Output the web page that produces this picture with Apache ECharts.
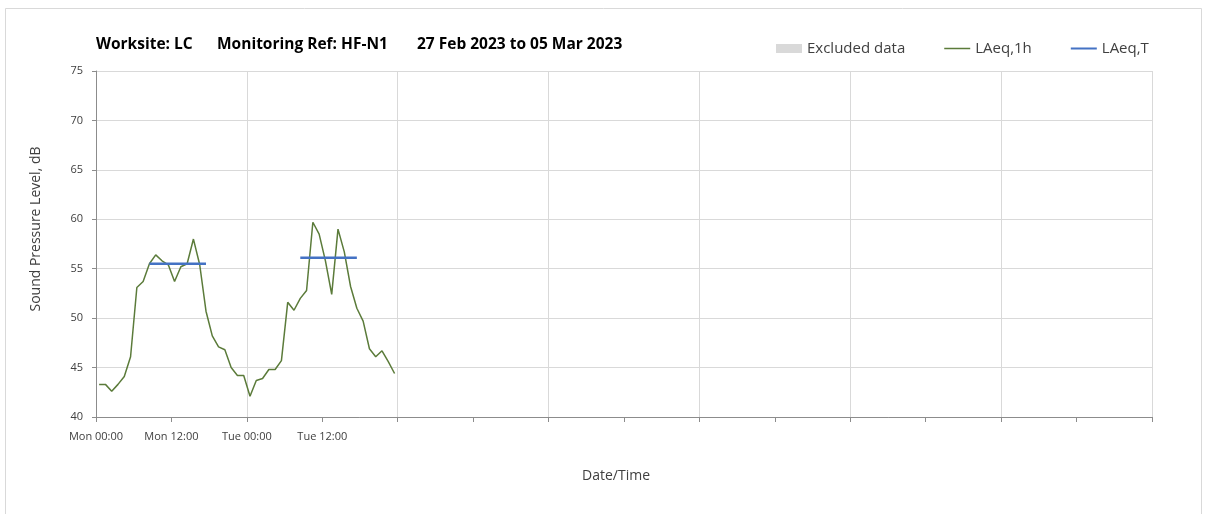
<!DOCTYPE html>
<html>
<head>
<meta charset="utf-8">
<script src="https://cdn.jsdelivr.net/npm/echarts@6/dist/echarts.min.js"></script>
<style>
html,body{margin:0;padding:0;background:#fff;}
#chart{width:1208px;height:514px;}
</style>
</head>
<body>
<div id="chart"></div>
<script>
// ---- data ----
var hourTimes = [0.5,1.5,2.5,3.5,4.5,5.5,6.5,7.5,8.5,9.5,10.5,11.5,12.5,13.5,14.5,15.5,16.5,17.5,18.5,19.5,20.5,21.5,22.5,23.5,
                 24.5,25.5,26.5,27.5,28.5,29.5,30.5,31.5,32.5,33.5,34.5,35.5,36.5,37.5,38.5,39.5,40.5,41.5,42.5,43.5,44.5,45.5,46.5,47.5];
var laeq1h = [43.3,43.3,42.6,43.3,44.1,46.1,53.1,53.7,55.5,56.4,55.8,55.4,53.7,55.2,55.5,58.0,55.4,50.7,48.2,47.1,46.8,45.0,44.2,44.2,
              42.1,43.7,43.9,44.8,44.8,45.7,51.6,50.8,52.0,52.8,59.7,58.5,55.8,52.4,59.0,56.7,53.2,51.0,49.7,46.9,46.1,46.7,45.6,44.4];
var periodStart = [8.5, 32.5];
var periodEnd = [17.5, 41.5];
var periodLevel = [55.5, 56.1];
var xLabelHours = [0, 12, 24, 36];
var xLabelTexts = ['Mon 00:00', 'Mon 12:00', 'Tue 00:00', 'Tue 12:00'];
var yTicks = [40, 45, 50, 55, 60, 65, 70, 75];

var FONT = '"Open Sans", Lato, sans-serif';
var chart = echarts.init(document.getElementById('chart'), null, {renderer: 'canvas'});

// thin horizontal line icons (tiny corner dots fix the 26x9 bounding box)
var thinLineIcon = 'path://M0,0H0.01V0.01H0ZM0,3.75H26V5.25H0ZM25.99,8.99H26V9H25.99Z';
var thickLineIcon = 'path://M0,0H0.01V0.01H0ZM0,3.4H26V5.6H0ZM25.99,8.99H26V9H25.99Z';

var lineData = hourTimes.map(function (t, i) { return [t, laeq1h[i]]; });
var periodSeries = periodStart.map(function (s, i) {
  return {
    name: 'LAeq,T', type: 'line', xAxisIndex: 0, symbol: 'none', z: 4,
    lineStyle: {color: '#4472C4', width: 2.5},
    itemStyle: {color: '#4472C4'},
    data: [[s, periodLevel[i]], [periodEnd[i], periodLevel[i]]]
  };
});

var option = {
  animation: false,
  backgroundColor: '#ffffff',
  textStyle: {fontFamily: FONT},
  graphic: [
    {type: 'rect', shape: {x: 5.5, y: 8.5, width: 1196, height: 520}, style: {fill: 'none', stroke: '#d9d9d9', lineWidth: 1}, silent: true},
    {type: 'text', left: 96, top: 37, style: {text: 'Worksite: LC', font: 'bold 15.5px ' + FONT, fill: '#000'}},
    {type: 'text', left: 217, top: 37, style: {text: 'Monitoring Ref: HF-N1', font: 'bold 15.5px ' + FONT, fill: '#000'}},
    {type: 'text', left: 417, top: 37, style: {text: '27 Feb 2023 to 05 Mar 2023', font: 'bold 15.5px ' + FONT, fill: '#000'}},
    {type: 'text', x: 36, y: 229, rotation: Math.PI / 2,
     style: {text: 'Sound Pressure Level, dB', font: '14px ' + FONT, fill: '#404040', textAlign: 'center', textVerticalAlign: 'middle'}},
    {type: 'text', x: 616, y: 476,
     style: {text: 'Date/Time', font: '14px ' + FONT, fill: '#404040', textAlign: 'center', textVerticalAlign: 'middle'}}
  ],
  legend: {
    left: 771, top: 36,
    itemWidth: 26, itemHeight: 9, itemGap: 39,
    textStyle: {fontSize: 15, color: '#404040', fontFamily: FONT},
    data: [
      {name: 'Excluded data', icon: 'rect', itemStyle: {color: '#d9d9d9'}},
      {name: 'LAeq,1h', icon: thinLineIcon, itemStyle: {color: '#5B7B3A'}},
      {name: 'LAeq,T', icon: thickLineIcon, itemStyle: {color: '#4472C4'}}
    ]
  },
  grid: {left: 96, right: 56, top: 71, bottom: 97, containLabel: false},
  xAxis: [
    {
      type: 'value', min: 0, max: 168, interval: 12, position: 'bottom',
      axisLine: {show: true, lineStyle: {color: '#8c8c8c', width: 1}},
      axisTick: {show: true, length: 5, lineStyle: {color: '#8c8c8c'}},
      splitLine: {show: false},
      axisLabel: {
        fontSize: 11, color: '#404040', margin: 14, fontFamily: FONT,
        formatter: function (v) {
          var k = xLabelHours.indexOf(v);
          return k >= 0 ? xLabelTexts[k] : '';
        }
      }
    },
    {
      type: 'value', min: 0, max: 168, interval: 24, position: 'bottom',
      axisLine: {show: false}, axisTick: {show: false}, axisLabel: {show: false},
      splitLine: {show: true, lineStyle: {color: '#d9d9d9', width: 1}}
    }
  ],
  yAxis: {
    type: 'value', min: yTicks[0], max: yTicks[yTicks.length - 1], interval: 5,
    axisLine: {show: true, lineStyle: {color: '#8c8c8c', width: 1}},
    axisTick: {show: true, length: 4, lineStyle: {color: '#8c8c8c'}},
    axisLabel: {fontSize: 11, color: '#404040', margin: 13, fontFamily: FONT},
    splitLine: {show: true, lineStyle: {color: '#d9d9d9', width: 1}}
  },
  series: [
    {name: 'Excluded data', type: 'line', xAxisIndex: 0, symbol: 'none', data: [], itemStyle: {color: '#d9d9d9'}, lineStyle: {color: '#d9d9d9'}},
    {name: 'LAeq,1h', type: 'line', xAxisIndex: 0, symbol: 'none', z: 3,
     lineStyle: {color: '#5B7B3A', width: 1.5}, itemStyle: {color: '#5B7B3A'}, data: lineData}
  ].concat(periodSeries)
};
chart.setOption(option);
</script>
</body>
</html>
